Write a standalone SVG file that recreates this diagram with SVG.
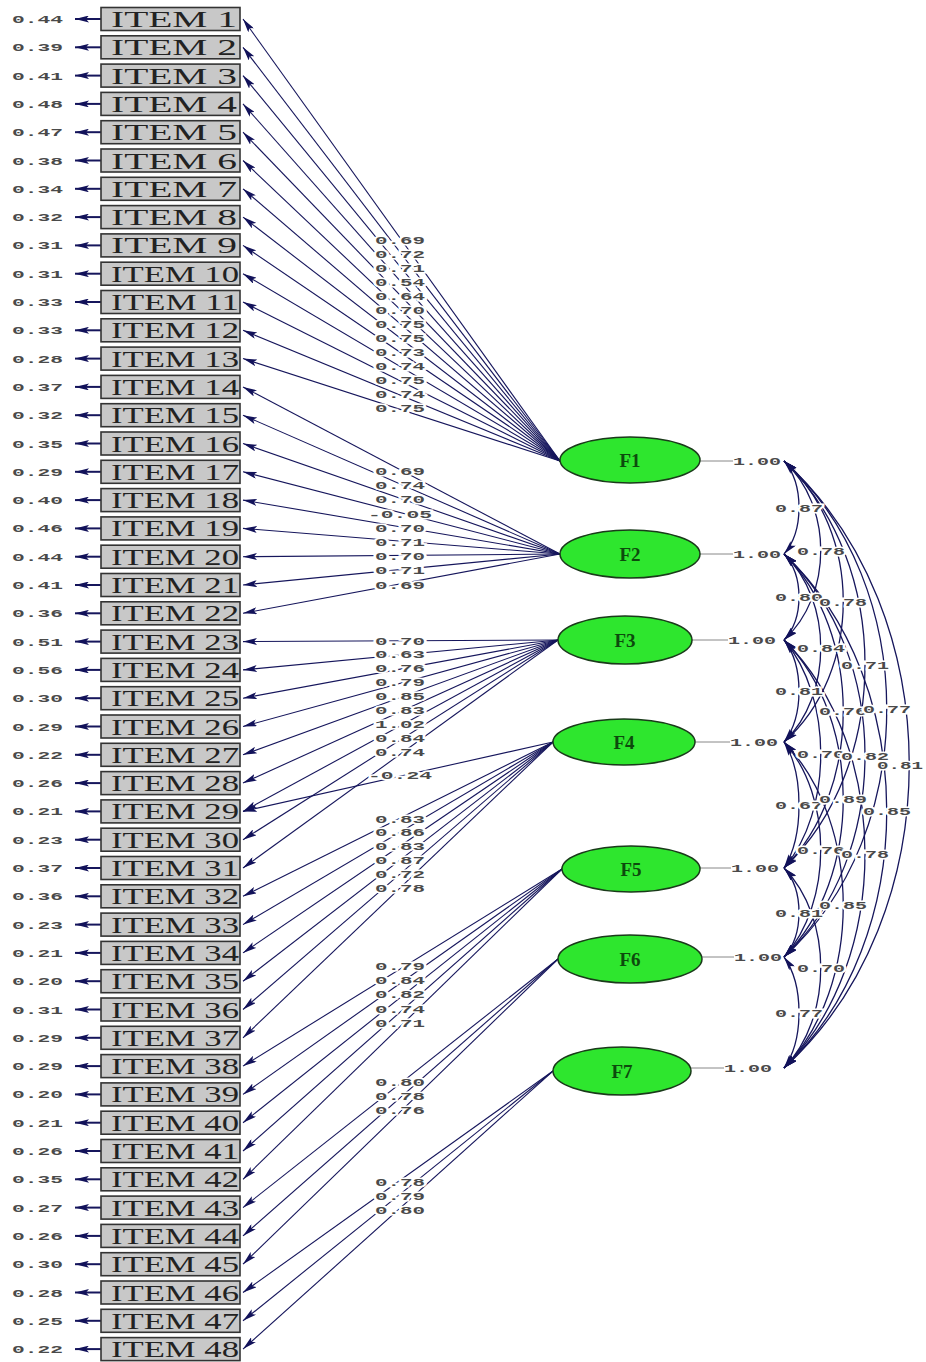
<svg xmlns="http://www.w3.org/2000/svg" width="926" height="1362" viewBox="0 0 926 1362">
<style>
.box{fill:#c8c8c8;stroke:#333;stroke-width:1.6}
.it{font-family:"Liberation Serif",serif;font-size:24px;fill:#222}
.num{font-family:"Liberation Mono",monospace;font-size:11px;font-weight:bold;fill:#4a4a4a}
.lab{font-family:"Liberation Mono",monospace;font-size:11px;font-weight:bold;fill:#4a4a4a;text-anchor:middle;paint-order:stroke;stroke:#fff;stroke-width:3px}
.ld{stroke:#16165c;stroke-width:1.1;marker-end:url(#ah)}
.ea{stroke:#16165c;stroke-width:2;marker-end:url(#ah)}
.cv{fill:none;stroke:#16165c;stroke-width:1.3;marker-start:url(#ah);marker-end:url(#ah)}
.fac{fill:#2ee62e;stroke:#1a3a1a;stroke-width:1.5}
.ft{font-family:"Liberation Serif",serif;font-size:19px;font-weight:bold;fill:#0d4a0d;text-anchor:middle}
.vl{stroke:#888;stroke-width:1}
</style>
<defs>
<marker id="ah" viewBox="0 0 14 7" refX="14" refY="3.5" markerWidth="14" markerHeight="7" markerUnits="userSpaceOnUse" orient="auto-start-reverse"><path d="M0,0 L14,3.5 L0,7 L3,3.5 z" fill="#12125a"/></marker>
</defs>
<rect width="926" height="1362" fill="#fff"/>

<g id="connectors">
<g id="error-arrows">
<line class="ea" x1="101" y1="19.0" x2="75" y2="19.0"/>
<line class="ea" x1="101" y1="47.3" x2="75" y2="47.3"/>
<line class="ea" x1="101" y1="75.6" x2="75" y2="75.6"/>
<line class="ea" x1="101" y1="103.9" x2="75" y2="103.9"/>
<line class="ea" x1="101" y1="132.2" x2="75" y2="132.2"/>
<line class="ea" x1="101" y1="160.5" x2="75" y2="160.5"/>
<line class="ea" x1="101" y1="188.8" x2="75" y2="188.8"/>
<line class="ea" x1="101" y1="217.1" x2="75" y2="217.1"/>
<line class="ea" x1="101" y1="245.4" x2="75" y2="245.4"/>
<line class="ea" x1="101" y1="273.7" x2="75" y2="273.7"/>
<line class="ea" x1="101" y1="302.0" x2="75" y2="302.0"/>
<line class="ea" x1="101" y1="330.3" x2="75" y2="330.3"/>
<line class="ea" x1="101" y1="358.6" x2="75" y2="358.6"/>
<line class="ea" x1="101" y1="386.9" x2="75" y2="386.9"/>
<line class="ea" x1="101" y1="415.2" x2="75" y2="415.2"/>
<line class="ea" x1="101" y1="443.5" x2="75" y2="443.5"/>
<line class="ea" x1="101" y1="471.8" x2="75" y2="471.8"/>
<line class="ea" x1="101" y1="500.1" x2="75" y2="500.1"/>
<line class="ea" x1="101" y1="528.4" x2="75" y2="528.4"/>
<line class="ea" x1="101" y1="556.7" x2="75" y2="556.7"/>
<line class="ea" x1="101" y1="585.0" x2="75" y2="585.0"/>
<line class="ea" x1="101" y1="613.3" x2="75" y2="613.3"/>
<line class="ea" x1="101" y1="641.6" x2="75" y2="641.6"/>
<line class="ea" x1="101" y1="669.9" x2="75" y2="669.9"/>
<line class="ea" x1="101" y1="698.2" x2="75" y2="698.2"/>
<line class="ea" x1="101" y1="726.5" x2="75" y2="726.5"/>
<line class="ea" x1="101" y1="754.8" x2="75" y2="754.8"/>
<line class="ea" x1="101" y1="783.1" x2="75" y2="783.1"/>
<line class="ea" x1="101" y1="811.4" x2="75" y2="811.4"/>
<line class="ea" x1="101" y1="839.7" x2="75" y2="839.7"/>
<line class="ea" x1="101" y1="868.0" x2="75" y2="868.0"/>
<line class="ea" x1="101" y1="896.3" x2="75" y2="896.3"/>
<line class="ea" x1="101" y1="924.6" x2="75" y2="924.6"/>
<line class="ea" x1="101" y1="952.9" x2="75" y2="952.9"/>
<line class="ea" x1="101" y1="981.2" x2="75" y2="981.2"/>
<line class="ea" x1="101" y1="1009.5" x2="75" y2="1009.5"/>
<line class="ea" x1="101" y1="1037.8" x2="75" y2="1037.8"/>
<line class="ea" x1="101" y1="1066.1" x2="75" y2="1066.1"/>
<line class="ea" x1="101" y1="1094.4" x2="75" y2="1094.4"/>
<line class="ea" x1="101" y1="1122.7" x2="75" y2="1122.7"/>
<line class="ea" x1="101" y1="1151.0" x2="75" y2="1151.0"/>
<line class="ea" x1="101" y1="1179.3" x2="75" y2="1179.3"/>
<line class="ea" x1="101" y1="1207.6" x2="75" y2="1207.6"/>
<line class="ea" x1="101" y1="1235.9" x2="75" y2="1235.9"/>
<line class="ea" x1="101" y1="1264.2" x2="75" y2="1264.2"/>
<line class="ea" x1="101" y1="1292.5" x2="75" y2="1292.5"/>
<line class="ea" x1="101" y1="1320.8" x2="75" y2="1320.8"/>
<line class="ea" x1="101" y1="1349.1" x2="75" y2="1349.1"/>
</g>
<g id="loadings">
<line class="ld" x1="560" y1="461" x2="243" y2="19.0"/>
<line class="ld" x1="560" y1="461" x2="243" y2="47.3"/>
<line class="ld" x1="560" y1="461" x2="243" y2="75.6"/>
<line class="ld" x1="560" y1="461" x2="243" y2="103.9"/>
<line class="ld" x1="560" y1="461" x2="243" y2="132.2"/>
<line class="ld" x1="560" y1="461" x2="243" y2="160.5"/>
<line class="ld" x1="560" y1="461" x2="243" y2="188.8"/>
<line class="ld" x1="560" y1="461" x2="243" y2="217.1"/>
<line class="ld" x1="560" y1="461" x2="243" y2="245.4"/>
<line class="ld" x1="560" y1="461" x2="243" y2="273.7"/>
<line class="ld" x1="560" y1="461" x2="243" y2="302.0"/>
<line class="ld" x1="560" y1="461" x2="243" y2="330.3"/>
<line class="ld" x1="560" y1="461" x2="243" y2="358.6"/>
<line class="ld" x1="560" y1="554" x2="243" y2="386.9"/>
<line class="ld" x1="560" y1="554" x2="243" y2="415.2"/>
<line class="ld" x1="560" y1="554" x2="243" y2="443.5"/>
<line class="ld" x1="560" y1="554" x2="243" y2="471.8"/>
<line class="ld" x1="560" y1="554" x2="243" y2="500.1"/>
<line class="ld" x1="560" y1="554" x2="243" y2="528.4"/>
<line class="ld" x1="560" y1="554" x2="243" y2="556.7"/>
<line class="ld" x1="560" y1="554" x2="243" y2="585.0"/>
<line class="ld" x1="560" y1="554" x2="243" y2="613.3"/>
<line class="ld" x1="558" y1="640" x2="243" y2="641.6"/>
<line class="ld" x1="558" y1="640" x2="243" y2="669.9"/>
<line class="ld" x1="558" y1="640" x2="243" y2="698.2"/>
<line class="ld" x1="558" y1="640" x2="243" y2="726.5"/>
<line class="ld" x1="558" y1="640" x2="243" y2="754.8"/>
<line class="ld" x1="558" y1="640" x2="243" y2="783.1"/>
<line class="ld" x1="558" y1="640" x2="243" y2="811.4"/>
<line class="ld" x1="558" y1="640" x2="243" y2="839.7"/>
<line class="ld" x1="558" y1="640" x2="243" y2="868.0"/>
<line class="ld" x1="553" y1="742" x2="243" y2="811.4"/>
<line class="ld" x1="553" y1="742" x2="243" y2="896.3"/>
<line class="ld" x1="553" y1="742" x2="243" y2="924.6"/>
<line class="ld" x1="553" y1="742" x2="243" y2="952.9"/>
<line class="ld" x1="553" y1="742" x2="243" y2="981.2"/>
<line class="ld" x1="553" y1="742" x2="243" y2="1009.5"/>
<line class="ld" x1="553" y1="742" x2="243" y2="1037.8"/>
<line class="ld" x1="562" y1="869" x2="243" y2="1066.1"/>
<line class="ld" x1="562" y1="869" x2="243" y2="1094.4"/>
<line class="ld" x1="562" y1="869" x2="243" y2="1122.7"/>
<line class="ld" x1="562" y1="869" x2="243" y2="1151.0"/>
<line class="ld" x1="562" y1="869" x2="243" y2="1179.3"/>
<line class="ld" x1="558" y1="959" x2="243" y2="1207.6"/>
<line class="ld" x1="558" y1="959" x2="243" y2="1235.9"/>
<line class="ld" x1="558" y1="959" x2="243" y2="1264.2"/>
<line class="ld" x1="553" y1="1071" x2="243" y2="1292.5"/>
<line class="ld" x1="553" y1="1071" x2="243" y2="1320.8"/>
<line class="ld" x1="553" y1="1071" x2="243" y2="1349.1"/>
</g>
<g id="variance-lines">
<line class="vl" x1="700" y1="461" x2="733" y2="461"/>
<line class="vl" x1="700" y1="554" x2="733" y2="554"/>
<line class="vl" x1="692" y1="640" x2="728" y2="640"/>
<line class="vl" x1="695" y1="742" x2="730" y2="742"/>
<line class="vl" x1="700" y1="868" x2="731" y2="868"/>
<line class="vl" x1="702" y1="957" x2="734" y2="957"/>
<line class="vl" x1="691" y1="1068" x2="724" y2="1068"/>
</g>
<g id="covariances">
<path class="cv" d="M784,461 C804,484 804,531 784,554"/>
<path class="cv" d="M784,554 C804,575.5 804,618.5 784,640"/>
<path class="cv" d="M784,640 C804,665.5 804,716.5 784,742"/>
<path class="cv" d="M784,742 C804,773.5 804,836.5 784,868"/>
<path class="cv" d="M784,868 C804,890 804,935 784,957"/>
<path class="cv" d="M784,957 C804,985 804,1040 784,1068"/>
<path class="cv" d="M784,461 C833,506 833,595 784,640"/>
<path class="cv" d="M784,554 C833,601 833,695 784,742"/>
<path class="cv" d="M784,640 C833,697 833,811 784,868"/>
<path class="cv" d="M784,742 C833,796 833,903 784,957"/>
<path class="cv" d="M784,868 C833,918 833,1018 784,1068"/>
<path class="cv" d="M784,461 C863,531 863,672 784,742"/>
<path class="cv" d="M784,554 C863,632 863,790 784,868"/>
<path class="cv" d="M784,640 C863,719 863,878 784,957"/>
<path class="cv" d="M784,742 C863,824 863,987 784,1068"/>
<path class="cv" d="M784,461 C892,563 892,766 784,868"/>
<path class="cv" d="M784,554 C892,655 892,856 784,957"/>
<path class="cv" d="M784,640 C892,747 892,961 784,1068"/>
<path class="cv" d="M784,461 C921,585 921,833 784,957"/>
<path class="cv" d="M784,554 C921,682 921,940 784,1068"/>
<path class="cv" d="M784,461 C951,613 951,916 784,1068"/>
</g>
</g>

<g id="error-labels">
<text class="num" x="12" y="23.0" textLength="51" lengthAdjust="spacingAndGlyphs">0.44</text>
<text class="num" x="12" y="51.3" textLength="51" lengthAdjust="spacingAndGlyphs">0.39</text>
<text class="num" x="12" y="79.6" textLength="51" lengthAdjust="spacingAndGlyphs">0.41</text>
<text class="num" x="12" y="107.9" textLength="51" lengthAdjust="spacingAndGlyphs">0.48</text>
<text class="num" x="12" y="136.2" textLength="51" lengthAdjust="spacingAndGlyphs">0.47</text>
<text class="num" x="12" y="164.5" textLength="51" lengthAdjust="spacingAndGlyphs">0.38</text>
<text class="num" x="12" y="192.8" textLength="51" lengthAdjust="spacingAndGlyphs">0.34</text>
<text class="num" x="12" y="221.1" textLength="51" lengthAdjust="spacingAndGlyphs">0.32</text>
<text class="num" x="12" y="249.4" textLength="51" lengthAdjust="spacingAndGlyphs">0.31</text>
<text class="num" x="12" y="277.7" textLength="51" lengthAdjust="spacingAndGlyphs">0.31</text>
<text class="num" x="12" y="306.0" textLength="51" lengthAdjust="spacingAndGlyphs">0.33</text>
<text class="num" x="12" y="334.3" textLength="51" lengthAdjust="spacingAndGlyphs">0.33</text>
<text class="num" x="12" y="362.6" textLength="51" lengthAdjust="spacingAndGlyphs">0.28</text>
<text class="num" x="12" y="390.9" textLength="51" lengthAdjust="spacingAndGlyphs">0.37</text>
<text class="num" x="12" y="419.2" textLength="51" lengthAdjust="spacingAndGlyphs">0.32</text>
<text class="num" x="12" y="447.5" textLength="51" lengthAdjust="spacingAndGlyphs">0.35</text>
<text class="num" x="12" y="475.8" textLength="51" lengthAdjust="spacingAndGlyphs">0.29</text>
<text class="num" x="12" y="504.1" textLength="51" lengthAdjust="spacingAndGlyphs">0.40</text>
<text class="num" x="12" y="532.4" textLength="51" lengthAdjust="spacingAndGlyphs">0.46</text>
<text class="num" x="12" y="560.7" textLength="51" lengthAdjust="spacingAndGlyphs">0.44</text>
<text class="num" x="12" y="589.0" textLength="51" lengthAdjust="spacingAndGlyphs">0.41</text>
<text class="num" x="12" y="617.3" textLength="51" lengthAdjust="spacingAndGlyphs">0.36</text>
<text class="num" x="12" y="645.6" textLength="51" lengthAdjust="spacingAndGlyphs">0.51</text>
<text class="num" x="12" y="673.9" textLength="51" lengthAdjust="spacingAndGlyphs">0.56</text>
<text class="num" x="12" y="702.2" textLength="51" lengthAdjust="spacingAndGlyphs">0.30</text>
<text class="num" x="12" y="730.5" textLength="51" lengthAdjust="spacingAndGlyphs">0.29</text>
<text class="num" x="12" y="758.8" textLength="51" lengthAdjust="spacingAndGlyphs">0.22</text>
<text class="num" x="12" y="787.1" textLength="51" lengthAdjust="spacingAndGlyphs">0.26</text>
<text class="num" x="12" y="815.4" textLength="51" lengthAdjust="spacingAndGlyphs">0.21</text>
<text class="num" x="12" y="843.7" textLength="51" lengthAdjust="spacingAndGlyphs">0.23</text>
<text class="num" x="12" y="872.0" textLength="51" lengthAdjust="spacingAndGlyphs">0.37</text>
<text class="num" x="12" y="900.3" textLength="51" lengthAdjust="spacingAndGlyphs">0.36</text>
<text class="num" x="12" y="928.6" textLength="51" lengthAdjust="spacingAndGlyphs">0.23</text>
<text class="num" x="12" y="956.9" textLength="51" lengthAdjust="spacingAndGlyphs">0.21</text>
<text class="num" x="12" y="985.2" textLength="51" lengthAdjust="spacingAndGlyphs">0.20</text>
<text class="num" x="12" y="1013.5" textLength="51" lengthAdjust="spacingAndGlyphs">0.31</text>
<text class="num" x="12" y="1041.8" textLength="51" lengthAdjust="spacingAndGlyphs">0.29</text>
<text class="num" x="12" y="1070.1" textLength="51" lengthAdjust="spacingAndGlyphs">0.29</text>
<text class="num" x="12" y="1098.4" textLength="51" lengthAdjust="spacingAndGlyphs">0.20</text>
<text class="num" x="12" y="1126.7" textLength="51" lengthAdjust="spacingAndGlyphs">0.21</text>
<text class="num" x="12" y="1155.0" textLength="51" lengthAdjust="spacingAndGlyphs">0.26</text>
<text class="num" x="12" y="1183.3" textLength="51" lengthAdjust="spacingAndGlyphs">0.35</text>
<text class="num" x="12" y="1211.6" textLength="51" lengthAdjust="spacingAndGlyphs">0.27</text>
<text class="num" x="12" y="1239.9" textLength="51" lengthAdjust="spacingAndGlyphs">0.26</text>
<text class="num" x="12" y="1268.2" textLength="51" lengthAdjust="spacingAndGlyphs">0.30</text>
<text class="num" x="12" y="1296.5" textLength="51" lengthAdjust="spacingAndGlyphs">0.28</text>
<text class="num" x="12" y="1324.8" textLength="51" lengthAdjust="spacingAndGlyphs">0.25</text>
<text class="num" x="12" y="1353.1" textLength="51" lengthAdjust="spacingAndGlyphs">0.22</text>
</g>

<g id="loading-labels">
<text class="lab" x="400" y="244" textLength="50" lengthAdjust="spacingAndGlyphs">0.69</text>
<text class="lab" x="400" y="258" textLength="50" lengthAdjust="spacingAndGlyphs">0.72</text>
<text class="lab" x="400" y="272" textLength="50" lengthAdjust="spacingAndGlyphs">0.71</text>
<text class="lab" x="400" y="286" textLength="50" lengthAdjust="spacingAndGlyphs">0.54</text>
<text class="lab" x="400" y="300" textLength="50" lengthAdjust="spacingAndGlyphs">0.64</text>
<text class="lab" x="400" y="314" textLength="50" lengthAdjust="spacingAndGlyphs">0.70</text>
<text class="lab" x="400" y="328" textLength="50" lengthAdjust="spacingAndGlyphs">0.75</text>
<text class="lab" x="400" y="342" textLength="50" lengthAdjust="spacingAndGlyphs">0.75</text>
<text class="lab" x="400" y="356" textLength="50" lengthAdjust="spacingAndGlyphs">0.73</text>
<text class="lab" x="400" y="370" textLength="50" lengthAdjust="spacingAndGlyphs">0.74</text>
<text class="lab" x="400" y="384" textLength="50" lengthAdjust="spacingAndGlyphs">0.75</text>
<text class="lab" x="400" y="398" textLength="50" lengthAdjust="spacingAndGlyphs">0.74</text>
<text class="lab" x="400" y="412" textLength="50" lengthAdjust="spacingAndGlyphs">0.75</text>
<text class="lab" x="400" y="475" textLength="50" lengthAdjust="spacingAndGlyphs">0.69</text>
<text class="lab" x="400" y="489" textLength="50" lengthAdjust="spacingAndGlyphs">0.74</text>
<text class="lab" x="400" y="503" textLength="50" lengthAdjust="spacingAndGlyphs">0.70</text>
<text class="lab" x="400" y="518" textLength="64" lengthAdjust="spacingAndGlyphs">-0.05</text>
<text class="lab" x="400" y="532" textLength="50" lengthAdjust="spacingAndGlyphs">0.70</text>
<text class="lab" x="400" y="546" textLength="50" lengthAdjust="spacingAndGlyphs">0.71</text>
<text class="lab" x="400" y="560" textLength="50" lengthAdjust="spacingAndGlyphs">0.70</text>
<text class="lab" x="400" y="574" textLength="50" lengthAdjust="spacingAndGlyphs">0.71</text>
<text class="lab" x="400" y="589" textLength="50" lengthAdjust="spacingAndGlyphs">0.69</text>
<text class="lab" x="400" y="645" textLength="50" lengthAdjust="spacingAndGlyphs">0.70</text>
<text class="lab" x="400" y="658" textLength="50" lengthAdjust="spacingAndGlyphs">0.63</text>
<text class="lab" x="400" y="672" textLength="50" lengthAdjust="spacingAndGlyphs">0.76</text>
<text class="lab" x="400" y="686" textLength="50" lengthAdjust="spacingAndGlyphs">0.79</text>
<text class="lab" x="400" y="700" textLength="50" lengthAdjust="spacingAndGlyphs">0.85</text>
<text class="lab" x="400" y="714" textLength="50" lengthAdjust="spacingAndGlyphs">0.83</text>
<text class="lab" x="400" y="728" textLength="50" lengthAdjust="spacingAndGlyphs">1.02</text>
<text class="lab" x="400" y="742" textLength="50" lengthAdjust="spacingAndGlyphs">0.84</text>
<text class="lab" x="400" y="756" textLength="50" lengthAdjust="spacingAndGlyphs">0.74</text>
<text class="lab" x="400" y="779" textLength="64" lengthAdjust="spacingAndGlyphs">-0.24</text>
<text class="lab" x="400" y="823" textLength="50" lengthAdjust="spacingAndGlyphs">0.83</text>
<text class="lab" x="400" y="836" textLength="50" lengthAdjust="spacingAndGlyphs">0.86</text>
<text class="lab" x="400" y="850" textLength="50" lengthAdjust="spacingAndGlyphs">0.83</text>
<text class="lab" x="400" y="864" textLength="50" lengthAdjust="spacingAndGlyphs">0.87</text>
<text class="lab" x="400" y="878" textLength="50" lengthAdjust="spacingAndGlyphs">0.72</text>
<text class="lab" x="400" y="892" textLength="50" lengthAdjust="spacingAndGlyphs">0.78</text>
<text class="lab" x="400" y="970" textLength="50" lengthAdjust="spacingAndGlyphs">0.79</text>
<text class="lab" x="400" y="984" textLength="50" lengthAdjust="spacingAndGlyphs">0.84</text>
<text class="lab" x="400" y="998" textLength="50" lengthAdjust="spacingAndGlyphs">0.82</text>
<text class="lab" x="400" y="1013" textLength="50" lengthAdjust="spacingAndGlyphs">0.74</text>
<text class="lab" x="400" y="1027" textLength="50" lengthAdjust="spacingAndGlyphs">0.71</text>
<text class="lab" x="400" y="1086" textLength="50" lengthAdjust="spacingAndGlyphs">0.80</text>
<text class="lab" x="400" y="1100" textLength="50" lengthAdjust="spacingAndGlyphs">0.78</text>
<text class="lab" x="400" y="1114" textLength="50" lengthAdjust="spacingAndGlyphs">0.76</text>
<text class="lab" x="400" y="1186" textLength="50" lengthAdjust="spacingAndGlyphs">0.78</text>
<text class="lab" x="400" y="1200" textLength="50" lengthAdjust="spacingAndGlyphs">0.79</text>
<text class="lab" x="400" y="1214" textLength="50" lengthAdjust="spacingAndGlyphs">0.80</text>
</g>

<g id="variance-labels">
<text class="num" x="733" y="465" textLength="48" lengthAdjust="spacingAndGlyphs">1.00</text>
<text class="num" x="733" y="558" textLength="48" lengthAdjust="spacingAndGlyphs">1.00</text>
<text class="num" x="728" y="644" textLength="48" lengthAdjust="spacingAndGlyphs">1.00</text>
<text class="num" x="730" y="746" textLength="48" lengthAdjust="spacingAndGlyphs">1.00</text>
<text class="num" x="731" y="872" textLength="48" lengthAdjust="spacingAndGlyphs">1.00</text>
<text class="num" x="734" y="961" textLength="48" lengthAdjust="spacingAndGlyphs">1.00</text>
<text class="num" x="724" y="1072" textLength="48" lengthAdjust="spacingAndGlyphs">1.00</text>
</g>

<g id="covariance-labels">
<text class="lab" x="799" y="511.5" textLength="48" lengthAdjust="spacingAndGlyphs">0.87</text>
<text class="lab" x="799" y="601" textLength="48" lengthAdjust="spacingAndGlyphs">0.80</text>
<text class="lab" x="799" y="695" textLength="48" lengthAdjust="spacingAndGlyphs">0.81</text>
<text class="lab" x="799" y="809" textLength="48" lengthAdjust="spacingAndGlyphs">0.67</text>
<text class="lab" x="799" y="916.5" textLength="48" lengthAdjust="spacingAndGlyphs">0.81</text>
<text class="lab" x="799" y="1016.5" textLength="48" lengthAdjust="spacingAndGlyphs">0.77</text>
<text class="lab" x="821" y="554.5" textLength="48" lengthAdjust="spacingAndGlyphs">0.78</text>
<text class="lab" x="821" y="652" textLength="48" lengthAdjust="spacingAndGlyphs">0.84</text>
<text class="lab" x="821" y="758" textLength="48" lengthAdjust="spacingAndGlyphs">0.70</text>
<text class="lab" x="821" y="853.5" textLength="48" lengthAdjust="spacingAndGlyphs">0.76</text>
<text class="lab" x="821" y="972" textLength="48" lengthAdjust="spacingAndGlyphs">0.70</text>
<text class="lab" x="843" y="605.5" textLength="48" lengthAdjust="spacingAndGlyphs">0.78</text>
<text class="lab" x="843" y="715" textLength="48" lengthAdjust="spacingAndGlyphs">0.76</text>
<text class="lab" x="843" y="802.5" textLength="48" lengthAdjust="spacingAndGlyphs">0.89</text>
<text class="lab" x="843" y="909" textLength="48" lengthAdjust="spacingAndGlyphs">0.85</text>
<text class="lab" x="865" y="668.5" textLength="48" lengthAdjust="spacingAndGlyphs">0.71</text>
<text class="lab" x="865" y="759.5" textLength="48" lengthAdjust="spacingAndGlyphs">0.82</text>
<text class="lab" x="865" y="858" textLength="48" lengthAdjust="spacingAndGlyphs">0.78</text>
<text class="lab" x="887" y="713" textLength="48" lengthAdjust="spacingAndGlyphs">0.77</text>
<text class="lab" x="887" y="815" textLength="48" lengthAdjust="spacingAndGlyphs">0.85</text>
<text class="lab" x="900" y="768.5" textLength="46" lengthAdjust="spacingAndGlyphs">0.81</text>
</g>

<g id="items">
<g id="item1"><rect class="box" x="101" y="7.5" width="139" height="23"/><text class="it" x="111" y="27.0" textLength="126" lengthAdjust="spacingAndGlyphs">ITEM 1</text></g>
<g id="item2"><rect class="box" x="101" y="35.8" width="139" height="23"/><text class="it" x="111" y="55.3" textLength="126" lengthAdjust="spacingAndGlyphs">ITEM 2</text></g>
<g id="item3"><rect class="box" x="101" y="64.1" width="139" height="23"/><text class="it" x="111" y="83.6" textLength="126" lengthAdjust="spacingAndGlyphs">ITEM 3</text></g>
<g id="item4"><rect class="box" x="101" y="92.4" width="139" height="23"/><text class="it" x="111" y="111.9" textLength="126" lengthAdjust="spacingAndGlyphs">ITEM 4</text></g>
<g id="item5"><rect class="box" x="101" y="120.7" width="139" height="23"/><text class="it" x="111" y="140.2" textLength="126" lengthAdjust="spacingAndGlyphs">ITEM 5</text></g>
<g id="item6"><rect class="box" x="101" y="149.0" width="139" height="23"/><text class="it" x="111" y="168.5" textLength="126" lengthAdjust="spacingAndGlyphs">ITEM 6</text></g>
<g id="item7"><rect class="box" x="101" y="177.3" width="139" height="23"/><text class="it" x="111" y="196.8" textLength="126" lengthAdjust="spacingAndGlyphs">ITEM 7</text></g>
<g id="item8"><rect class="box" x="101" y="205.6" width="139" height="23"/><text class="it" x="111" y="225.1" textLength="126" lengthAdjust="spacingAndGlyphs">ITEM 8</text></g>
<g id="item9"><rect class="box" x="101" y="233.9" width="139" height="23"/><text class="it" x="111" y="253.4" textLength="126" lengthAdjust="spacingAndGlyphs">ITEM 9</text></g>
<g id="item10"><rect class="box" x="101" y="262.2" width="139" height="23"/><text class="it" x="111" y="281.7" textLength="128" lengthAdjust="spacingAndGlyphs">ITEM 10</text></g>
<g id="item11"><rect class="box" x="101" y="290.5" width="139" height="23"/><text class="it" x="111" y="310.0" textLength="128" lengthAdjust="spacingAndGlyphs">ITEM 11</text></g>
<g id="item12"><rect class="box" x="101" y="318.8" width="139" height="23"/><text class="it" x="111" y="338.3" textLength="128" lengthAdjust="spacingAndGlyphs">ITEM 12</text></g>
<g id="item13"><rect class="box" x="101" y="347.1" width="139" height="23"/><text class="it" x="111" y="366.6" textLength="128" lengthAdjust="spacingAndGlyphs">ITEM 13</text></g>
<g id="item14"><rect class="box" x="101" y="375.4" width="139" height="23"/><text class="it" x="111" y="394.9" textLength="128" lengthAdjust="spacingAndGlyphs">ITEM 14</text></g>
<g id="item15"><rect class="box" x="101" y="403.7" width="139" height="23"/><text class="it" x="111" y="423.2" textLength="128" lengthAdjust="spacingAndGlyphs">ITEM 15</text></g>
<g id="item16"><rect class="box" x="101" y="432.0" width="139" height="23"/><text class="it" x="111" y="451.5" textLength="128" lengthAdjust="spacingAndGlyphs">ITEM 16</text></g>
<g id="item17"><rect class="box" x="101" y="460.3" width="139" height="23"/><text class="it" x="111" y="479.8" textLength="128" lengthAdjust="spacingAndGlyphs">ITEM 17</text></g>
<g id="item18"><rect class="box" x="101" y="488.6" width="139" height="23"/><text class="it" x="111" y="508.1" textLength="128" lengthAdjust="spacingAndGlyphs">ITEM 18</text></g>
<g id="item19"><rect class="box" x="101" y="516.9" width="139" height="23"/><text class="it" x="111" y="536.4" textLength="128" lengthAdjust="spacingAndGlyphs">ITEM 19</text></g>
<g id="item20"><rect class="box" x="101" y="545.2" width="139" height="23"/><text class="it" x="111" y="564.7" textLength="128" lengthAdjust="spacingAndGlyphs">ITEM 20</text></g>
<g id="item21"><rect class="box" x="101" y="573.5" width="139" height="23"/><text class="it" x="111" y="593.0" textLength="128" lengthAdjust="spacingAndGlyphs">ITEM 21</text></g>
<g id="item22"><rect class="box" x="101" y="601.8" width="139" height="23"/><text class="it" x="111" y="621.3" textLength="128" lengthAdjust="spacingAndGlyphs">ITEM 22</text></g>
<g id="item23"><rect class="box" x="101" y="630.1" width="139" height="23"/><text class="it" x="111" y="649.6" textLength="128" lengthAdjust="spacingAndGlyphs">ITEM 23</text></g>
<g id="item24"><rect class="box" x="101" y="658.4" width="139" height="23"/><text class="it" x="111" y="677.9" textLength="128" lengthAdjust="spacingAndGlyphs">ITEM 24</text></g>
<g id="item25"><rect class="box" x="101" y="686.7" width="139" height="23"/><text class="it" x="111" y="706.2" textLength="128" lengthAdjust="spacingAndGlyphs">ITEM 25</text></g>
<g id="item26"><rect class="box" x="101" y="715.0" width="139" height="23"/><text class="it" x="111" y="734.5" textLength="128" lengthAdjust="spacingAndGlyphs">ITEM 26</text></g>
<g id="item27"><rect class="box" x="101" y="743.3" width="139" height="23"/><text class="it" x="111" y="762.8" textLength="128" lengthAdjust="spacingAndGlyphs">ITEM 27</text></g>
<g id="item28"><rect class="box" x="101" y="771.6" width="139" height="23"/><text class="it" x="111" y="791.1" textLength="128" lengthAdjust="spacingAndGlyphs">ITEM 28</text></g>
<g id="item29"><rect class="box" x="101" y="799.9" width="139" height="23"/><text class="it" x="111" y="819.4" textLength="128" lengthAdjust="spacingAndGlyphs">ITEM 29</text></g>
<g id="item30"><rect class="box" x="101" y="828.2" width="139" height="23"/><text class="it" x="111" y="847.7" textLength="128" lengthAdjust="spacingAndGlyphs">ITEM 30</text></g>
<g id="item31"><rect class="box" x="101" y="856.5" width="139" height="23"/><text class="it" x="111" y="876.0" textLength="128" lengthAdjust="spacingAndGlyphs">ITEM 31</text></g>
<g id="item32"><rect class="box" x="101" y="884.8" width="139" height="23"/><text class="it" x="111" y="904.3" textLength="128" lengthAdjust="spacingAndGlyphs">ITEM 32</text></g>
<g id="item33"><rect class="box" x="101" y="913.1" width="139" height="23"/><text class="it" x="111" y="932.6" textLength="128" lengthAdjust="spacingAndGlyphs">ITEM 33</text></g>
<g id="item34"><rect class="box" x="101" y="941.4" width="139" height="23"/><text class="it" x="111" y="960.9" textLength="128" lengthAdjust="spacingAndGlyphs">ITEM 34</text></g>
<g id="item35"><rect class="box" x="101" y="969.7" width="139" height="23"/><text class="it" x="111" y="989.2" textLength="128" lengthAdjust="spacingAndGlyphs">ITEM 35</text></g>
<g id="item36"><rect class="box" x="101" y="998.0" width="139" height="23"/><text class="it" x="111" y="1017.5" textLength="128" lengthAdjust="spacingAndGlyphs">ITEM 36</text></g>
<g id="item37"><rect class="box" x="101" y="1026.3" width="139" height="23"/><text class="it" x="111" y="1045.8" textLength="128" lengthAdjust="spacingAndGlyphs">ITEM 37</text></g>
<g id="item38"><rect class="box" x="101" y="1054.6" width="139" height="23"/><text class="it" x="111" y="1074.1" textLength="128" lengthAdjust="spacingAndGlyphs">ITEM 38</text></g>
<g id="item39"><rect class="box" x="101" y="1082.9" width="139" height="23"/><text class="it" x="111" y="1102.4" textLength="128" lengthAdjust="spacingAndGlyphs">ITEM 39</text></g>
<g id="item40"><rect class="box" x="101" y="1111.2" width="139" height="23"/><text class="it" x="111" y="1130.7" textLength="128" lengthAdjust="spacingAndGlyphs">ITEM 40</text></g>
<g id="item41"><rect class="box" x="101" y="1139.5" width="139" height="23"/><text class="it" x="111" y="1159.0" textLength="128" lengthAdjust="spacingAndGlyphs">ITEM 41</text></g>
<g id="item42"><rect class="box" x="101" y="1167.8" width="139" height="23"/><text class="it" x="111" y="1187.3" textLength="128" lengthAdjust="spacingAndGlyphs">ITEM 42</text></g>
<g id="item43"><rect class="box" x="101" y="1196.1" width="139" height="23"/><text class="it" x="111" y="1215.6" textLength="128" lengthAdjust="spacingAndGlyphs">ITEM 43</text></g>
<g id="item44"><rect class="box" x="101" y="1224.4" width="139" height="23"/><text class="it" x="111" y="1243.9" textLength="128" lengthAdjust="spacingAndGlyphs">ITEM 44</text></g>
<g id="item45"><rect class="box" x="101" y="1252.7" width="139" height="23"/><text class="it" x="111" y="1272.2" textLength="128" lengthAdjust="spacingAndGlyphs">ITEM 45</text></g>
<g id="item46"><rect class="box" x="101" y="1281.0" width="139" height="23"/><text class="it" x="111" y="1300.5" textLength="128" lengthAdjust="spacingAndGlyphs">ITEM 46</text></g>
<g id="item47"><rect class="box" x="101" y="1309.3" width="139" height="23"/><text class="it" x="111" y="1328.8" textLength="128" lengthAdjust="spacingAndGlyphs">ITEM 47</text></g>
<g id="item48"><rect class="box" x="101" y="1337.6" width="139" height="23"/><text class="it" x="111" y="1357.1" textLength="128" lengthAdjust="spacingAndGlyphs">ITEM 48</text></g>
</g>

<g id="factors">
<g id="F1"><ellipse class="fac" cx="630" cy="460" rx="70" ry="23"/><text class="ft" x="630" y="467">F1</text></g>
<g id="F2"><ellipse class="fac" cx="630" cy="554" rx="70" ry="24"/><text class="ft" x="630" y="561">F2</text></g>
<g id="F3"><ellipse class="fac" cx="625" cy="640" rx="67" ry="24"/><text class="ft" x="625" y="647">F3</text></g>
<g id="F4"><ellipse class="fac" cx="624" cy="742" rx="71" ry="23"/><text class="ft" x="624" y="749">F4</text></g>
<g id="F5"><ellipse class="fac" cx="631" cy="869" rx="69" ry="23"/><text class="ft" x="631" y="876">F5</text></g>
<g id="F6"><ellipse class="fac" cx="630" cy="959" rx="72" ry="24"/><text class="ft" x="630" y="966">F6</text></g>
<g id="F7"><ellipse class="fac" cx="622" cy="1071" rx="69" ry="24"/><text class="ft" x="622" y="1078">F7</text></g>
</g>
</svg>
